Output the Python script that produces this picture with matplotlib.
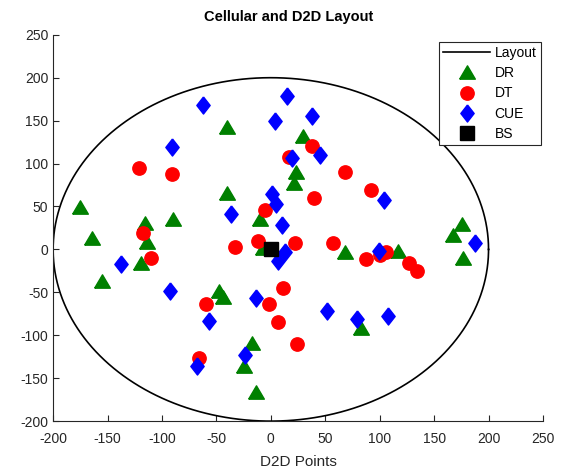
import numpy as np
import matplotlib
matplotlib.use("Agg")
import matplotlib.pyplot as plt

plt.rcParams['font.family'] = ['Liberation Sans', 'DejaVu Sans']
plt.rcParams['axes.unicode_minus'] = False

# layout radius
radius = 200

# DR points (green triangles)
dr_x = [-175, -164, -155, -116, -114, -119, -90, -40, -40, -10, -7, 30, 23, 21,
        -48, -44, -17, -25, -14, 68, 117, 83, 167, 176, 177]
dr_y = [49, 13, -37, 31, 9, -16, 36, 143, 66, 36, 2, 132, 90, 77,
        -49, -55, -109, -136, -166, -3, -2, -92, 17, 30, -10]

# DT points (red circles)
dt_x = [-121, -91, -117, -110, -60, -66, 38, 17, 40, 68, 92, -5, -33, -12, 22,
        57, 11, -2, 7, 24, 87, 100, 106, 127, 134]
dt_y = [95, 88, 19, -10, -64, -126, 120, 108, 60, 90, 69, 46, 3, 10, 7,
        7, -45, -63, -84, -110, -11, -6, -3, -16, -25]

# CUE points (blue diamonds)
cue_x = [-62, -91, 15, 4, 38, 45, 19, 1, 5, -37, 10, 104, 188, -138, -93, -57,
         -68, 13, 7, -14, 52, -24, 99, 79, 108]
cue_y = [168, 119, 179, 150, 155, 110, 107, 65, 53, 41, 29, 57, 8, -17, -48, -83,
         -136, -3, -13, -57, -72, -123, -2, -81, -77]

# base station
bs_x = [0]
bs_y = [0]

# matlab-like marker shapes
tri = [(-1, -0.85), (1, -0.85), (0, 0.85), (-1, -0.85)]
dia = [(0, 1), (0.78, 0), (0, -1), (-0.78, 0), (0, 1)]

fig = plt.figure(figsize=(5.65, 4.7), dpi=100)
ax = fig.add_axes([0.094, 0.104, 0.867, 0.822])

t = np.linspace(0, 2 * np.pi, 400)
ax.plot(radius * np.cos(t), radius * np.sin(t), color='k', linewidth=1.2, label='Layout')
ax.plot(dr_x, dr_y, marker=tri, color='#008000', markersize=11.3, linestyle='none', label='DR')
ax.plot(dt_x, dt_y, 'o', color='#ff0000', markersize=9.6, linestyle='none', label='DT')
ax.plot(cue_x, cue_y, marker=dia, color='#0000ff', markersize=12.3, linestyle='none', label='CUE')
ax.plot(bs_x, bs_y, 's', color='k', markersize=10, linestyle='none', label='BS')

ax.set_xlim(-200, 250)
ax.set_ylim(-200, 250)
ax.set_xticks(range(-200, 251, 50))
ax.set_yticks(range(-200, 251, 50))

axc = '#262626'
ax.spines['top'].set_visible(False)
ax.spines['right'].set_visible(False)
ax.spines['left'].set_color(axc)
ax.spines['bottom'].set_color(axc)
ax.tick_params(direction='in', colors=axc, labelsize=10, length=4)
ax.tick_params(axis='x', pad=8)

ax.set_title('Cellular and D2D Layout', fontsize=10.5, fontweight='bold', color='k', pad=10, x=0.48)
ax.set_xlabel('D2D Points', fontsize=11, color=axc, labelpad=6)

leg = ax.legend(loc='upper right', bbox_to_anchor=(0.995, 0.982), fontsize=10,
                fancybox=False, framealpha=1, edgecolor=axc, borderpad=0.3,
                labelspacing=0.45, handlelength=3.4, handletextpad=0.3,
                borderaxespad=0)
leg.get_frame().set_linewidth(0.8)

fig.savefig('out.png', dpi=100)
